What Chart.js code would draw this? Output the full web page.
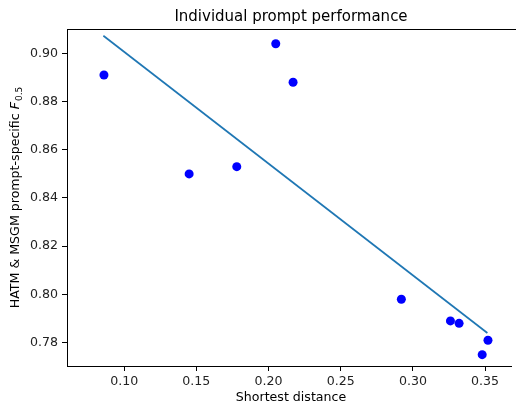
<!DOCTYPE html>
<html>
<head>
<meta charset="utf-8">
<script src="https://cdn.jsdelivr.net/npm/chart.js@4"></script>
<style>
  html, body { margin: 0; padding: 0; background: #fff; }
</style>
</head>
<body>
<canvas id="chart" width="516" height="405"></canvas>
<script>
// data
const distances = [0.086, 0.145, 0.178, 0.205, 0.217, 0.292, 0.326, 0.332, 0.348, 0.352];
const scores = [0.891, 0.850, 0.853, 0.904, 0.888, 0.798, 0.789, 0.788, 0.775, 0.781];
const fitX = [0.0856, 0.3516];
const fitY = [0.9073, 0.7840];
const xTicks = [0.10, 0.15, 0.20, 0.25, 0.30, 0.35];
const yTicks = [0.78, 0.80, 0.82, 0.84, 0.86, 0.88, 0.90];

const FONT = "'DejaVu Sans', sans-serif";

// title, axis labels and top spine (matplotlib look)
const textPlugin = {
  id: 'mplText',
  afterDraw(chart) {
    const ctx = chart.ctx;
    const a = chart.chartArea;
    ctx.save();
    ctx.strokeStyle = '#000';
    ctx.lineWidth = 1;
    ctx.beginPath();
    ctx.moveTo(a.left, 29.5);
    ctx.lineTo(516, 29.5);
    ctx.stroke();

    ctx.fillStyle = '#000';
    ctx.textBaseline = 'alphabetic';
    ctx.textAlign = 'center';
    ctx.font = '15px ' + FONT;
    ctx.fillText('Individual prompt performance', 291, 21);

    ctx.font = '12.6px ' + FONT;
    ctx.fillText('Shortest distance', 291, 401);

    // y label with italic F and subscript 0.5
    const part1 = 'HATM & MSGM prompt-specific ';
    const f1 = '12.6px ' + FONT;
    const f2 = 'italic 12.6px ' + FONT;
    const f3 = '9px ' + FONT;
    ctx.font = f1; const w1 = ctx.measureText(part1).width;
    ctx.font = f2; const w2 = ctx.measureText('F').width;
    ctx.font = f3; const w3 = ctx.measureText('0.5').width;
    const total = w1 + w2 + w3 + 1;
    ctx.translate(19, (a.top + a.bottom) / 2);
    ctx.rotate(-Math.PI / 2);
    ctx.textAlign = 'left';
    let x = -total / 2;
    ctx.font = f1; ctx.fillText(part1, x, 0); x += w1;
    ctx.font = f2; ctx.fillText('F', x, 0); x += w2 + 1;
    ctx.font = f3; ctx.fillText('0.5', x, 3);
    ctx.restore();
  }
};

new Chart(document.getElementById('chart').getContext('2d'), {
  type: 'scatter',
  data: {
    datasets: [
      {
        data: distances.map((d, i) => ({ x: d, y: scores[i] })),
        backgroundColor: '#0000ff',
        borderWidth: 0,
        pointRadius: 4.5,
        order: 0
      },
      {
        type: 'line',
        data: fitX.map((d, i) => ({ x: d, y: fitY[i] })),
        borderColor: '#1f77b4',
        borderWidth: 1.7,
        pointRadius: 0,
        fill: false,
        order: 1
      }
    ]
  },
  options: {
    responsive: false,
    animation: false,
    layout: { padding: { top: 29, right: 0, left: 0, bottom: 0 } },
    plugins: { legend: { display: false }, tooltip: { enabled: false }, title: { display: false } },
    scales: {
      x: {
        type: 'linear',
        min: 0.0604,
        max: 0.3683,
        afterBuildTicks: s => { s.ticks = xTicks.map(v => ({ value: v })); },
        afterFit: s => { s.height = 39; s.paddingLeft = 0; s.paddingRight = 0; },
        grid: { drawOnChartArea: false, drawTicks: true, tickLength: 5, color: '#000' },
        border: { display: true, color: '#000', width: 1 },
        ticks: {
          color: '#222', padding: 3, maxRotation: 0, autoSkip: false,
          font: { family: FONT, size: 12.6 },
          callback: v => v.toFixed(2)
        }
      },
      y: {
        type: 'linear',
        min: 0.7703,
        max: 0.9101,
        afterBuildTicks: s => { s.ticks = yTicks.map(v => ({ value: v })); },
        afterFit: s => { s.width = 67; s.paddingTop = 0; s.paddingBottom = 0; },
        grid: { drawOnChartArea: false, drawTicks: true, tickLength: 5, color: '#000' },
        border: { display: true, color: '#000', width: 1 },
        ticks: {
          color: '#222', padding: 4, autoSkip: false,
          font: { family: FONT, size: 12.6 },
          callback: v => v.toFixed(2)
        }
      }
    }
  },
  plugins: [textPlugin]
});
</script>
</body>
</html>
